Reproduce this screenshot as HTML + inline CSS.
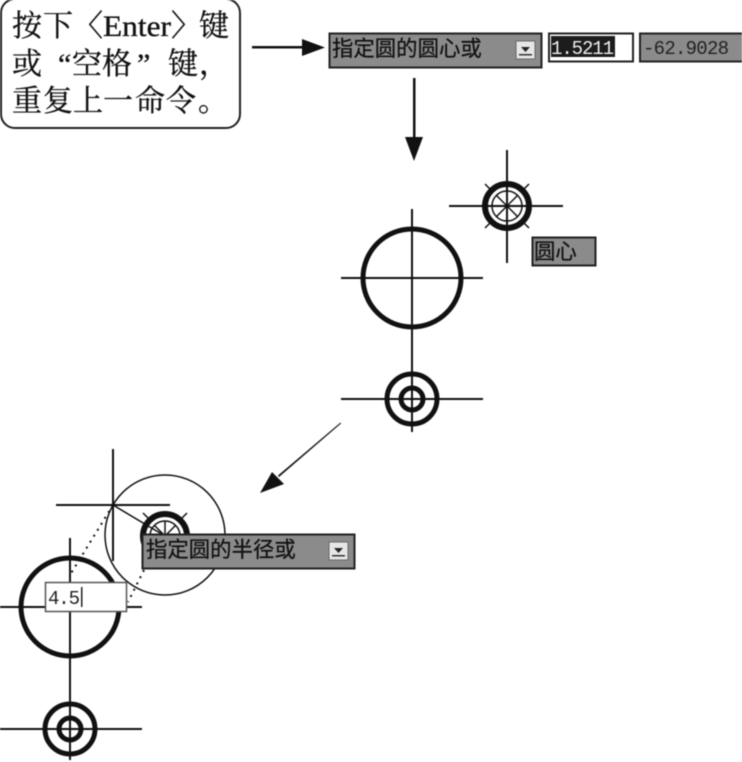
<!DOCTYPE html>
<html><head><meta charset="utf-8"><style>
html,body{margin:0;padding:0;background:#fff}
svg{display:block;filter:blur(.4px)}
.s{font-family:"Liberation Serif","Noto Serif CJK SC",serif;fill:#111;stroke:#111;stroke-width:.35px}
.g{font-family:"Liberation Sans","WenQuanYi Zen Hei","Noto Sans CJK SC",sans-serif;fill:#111;stroke:#111;stroke-width:.25px}
.m{font-family:"Liberation Mono",monospace}
</style></head><body>
<svg width="742" height="762" viewBox="0 0 742 762" xmlns="http://www.w3.org/2000/svg">
<rect x="1" y="-1" width="239" height="129" rx="14" fill="#fff" stroke="#222" stroke-width="2"/>
<text class="s" font-size="30" x="12 43" y="36">按下</text>
<text class="s" font-size="30" x="73" y="36">〈</text>
<text class="s" font-size="30" x="103" y="36" textLength="68" lengthAdjust="spacingAndGlyphs">Enter</text>
<text class="s" font-size="30" x="171" y="36">〉</text>
<text class="s" font-size="30" x="199" y="36">键</text>
<text class="s" font-size="30" x="12 58 72 102 137 168 199" y="74">或“空格”键，</text>
<text class="s" font-size="30" x="12 43 73 103 135 166 198" y="111">重复上一命令。</text>

<g fill="#111" stroke="none">
<rect x="252" y="46" width="54" height="2.500"/><path d="M302 39L325 47.500L302 56Z"/>
<rect x="413" y="78" width="2.500" height="62"/><path d="M405 137H423L414 161Z"/>
<path d="M341 423.500L279 477L278 475.500L340.500 422.500Z"/><path d="M260 493L272 472L284 484Z"/>
</g>

<rect x="329.500" y="33.500" width="212" height="34" fill="#8b8b8b" stroke="#222" stroke-width="2"/>
<text class="g" x="332" y="56" font-size="21.400">指定圆的圆心或</text>
<rect x="516" y="41" width="19" height="18" fill="#e6e6e6" stroke="#666"/><path d="M521 47H530L525.500 52Z" fill="#222"/><rect x="519" y="54" width="13" height="1.500" fill="#333"/>
<rect x="549" y="33.500" width="84" height="28" fill="#fff" stroke="#222" stroke-width="2"/>
<rect x="551" y="36" width="64" height="21" fill="#1c1c1c"/>
<text class="m" x="551" y="54" font-size="19" fill="#eee" textLength="63">1.5211</text>
<rect x="640" y="33.500" width="104" height="28" fill="#8b8b8b" stroke="#222" stroke-width="2"/>
<text class="m" x="643" y="54" font-size="19" fill="#222" textLength="86">-62.9028</text>

<g fill="none" stroke="#111">
<path d="M507 150V263M449 206H563" stroke-width="2"/>
<circle cx="507" cy="206" r="22" stroke-width="6"/>
<circle cx="507" cy="206" r="15" stroke-width="1.500"/>
<path d="M507 191V221M492 206H522M496.400 195.400L517.600 216.600M517.600 195.400L496.400 216.600M485 184L490 189M529 184L524 189M485 228L490 223M529 228L524 223" stroke-width="1.500"/>
<path d="M412 209V432M341 278H483M341 399H483" stroke-width="2"/>
<circle cx="412" cy="278" r="49" stroke-width="5"/>
<circle cx="412" cy="399" r="25" stroke-width="5"/>
<circle cx="412" cy="399" r="11" stroke-width="5"/>

<path d="M113 449V561M56 505H170" stroke-width="2"/>
<circle cx="165" cy="535" r="60" stroke-width="1.500"/>
<circle cx="165" cy="536" r="22" stroke-width="6"/>
<circle cx="165" cy="536" r="15" stroke-width="1.500"/>
<path d="M113 505L165 536M165 521V551M150 536H180M154.400 525.400L175.600 546.600M175.600 525.400L154.400 546.600M143 513L148 518M187 513L182 518" stroke-width="1.500"/>
<path d="M70 538V760M0 607H142M0 729H142" stroke-width="2"/>
<circle cx="70" cy="607" r="49" stroke-width="5"/>
<circle cx="70" cy="729" r="25" stroke-width="5"/>
<circle cx="70" cy="729" r="11" stroke-width="5"/>
<path d="M113 505L70 575M144 570L128 602" stroke-width="2" stroke-dasharray="2 5"/>
</g>

<rect x="532.500" y="237.500" width="63" height="28" fill="#8b8b8b" stroke="#222" stroke-width="2"/>
<text class="g" x="534" y="259" font-size="21.400">圆心</text>

<rect x="142.500" y="534.500" width="212" height="34" fill="#8b8b8b" stroke="#222" stroke-width="2"/>
<text class="g" x="146" y="557" font-size="21.400">指定圆的半径或</text>
<rect x="329" y="542" width="19" height="18" fill="#e6e6e6" stroke="#666"/><path d="M334 548H343L338.500 553Z" fill="#222"/><rect x="332" y="555" width="13" height="1.500" fill="#333"/>

<rect x="45.500" y="582.500" width="81" height="29" fill="#fff" stroke="#555" stroke-width="1.500"/>
<text class="m" x="48" y="604" font-size="19" fill="#222" textLength="32">4.5</text>
<rect x="81" y="587" width="1.500" height="20" fill="#222"/>
</svg>
</body></html>
